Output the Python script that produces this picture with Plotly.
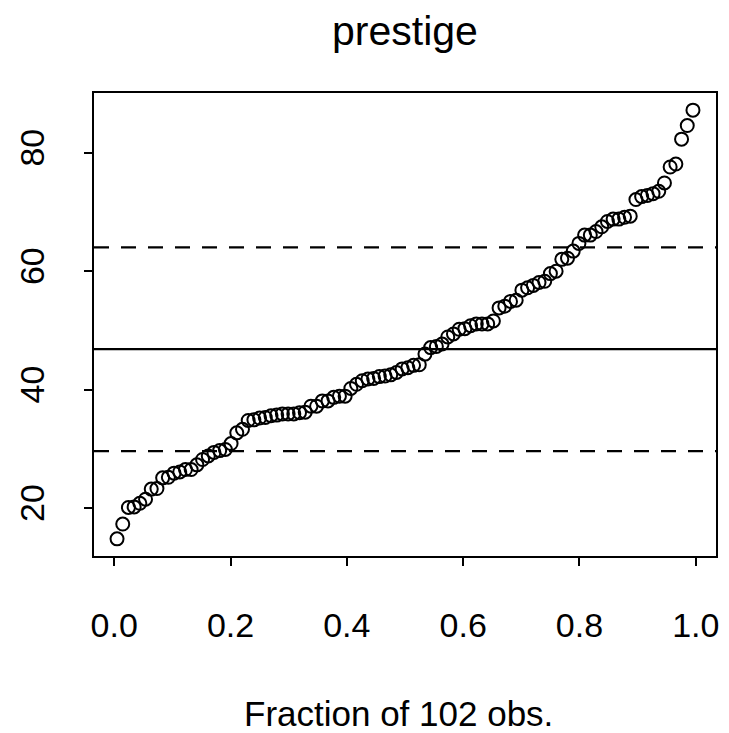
import numpy as np
import plotly.graph_objects as go

# Prestige scores (car::Prestige), 102 occupations
prestige = [68.8, 69.1, 63.4, 56.8, 73.5, 77.6, 72.6, 78.1, 73.1, 68.8,
            62.0, 60.0, 53.8, 62.2, 74.9, 55.1, 82.3, 58.1, 58.3, 72.8,
            84.6, 59.6, 66.1, 87.2, 66.7, 68.4, 64.7, 34.9, 72.1, 69.3,
            67.5, 57.2, 57.6, 54.1, 46.0, 41.9, 49.4, 42.3, 47.7, 30.9,
            32.7, 38.7, 36.1, 37.2, 38.1, 29.4, 51.1, 35.7, 35.6, 41.5,
            40.2, 26.5, 14.8, 23.3, 47.3, 47.1, 51.1, 43.5, 51.6, 29.7,
            20.2, 54.9, 25.9, 20.8, 17.3, 20.1, 44.1, 21.5, 35.3, 38.9,
            25.2, 34.8, 23.2, 33.3, 28.8, 42.5, 44.2, 35.9, 41.8, 35.9,
            43.7, 50.8, 37.2, 28.2, 38.1, 50.3, 27.3, 40.9, 50.2, 51.1,
            38.9, 36.2, 29.9, 42.9, 26.5, 66.1, 48.9, 35.9, 25.1, 26.1,
            42.2, 35.2]
x_ticks = [0.0, 0.2, 0.4, 0.6, 0.8, 1.0]
x_ticklabels = ["0.0", "0.2", "0.4", "0.6", "0.8", "1.0"]
y_ticks = [20, 40, 60, 80]
y_ticklabels = ["20", "40", "60", "80"]
title_text = "prestige"
x_label = "Fraction of 102 obs."

vals = np.sort(np.array(prestige))
n = len(vals)
frac = (np.arange(1, n + 1) - 0.5) / n
mean = vals.mean()
sd = vals.std(ddof=1)

FONT = "Liberation Sans, Arial, sans-serif"

fig = go.Figure()
fig.add_trace(go.Scatter(
    x=frac, y=vals, mode="markers",
    marker=dict(symbol="circle-open", size=13, color="black",
                line=dict(color="black", width=2)),
    showlegend=False, hoverinfo="skip"))

for yv, dash in [(mean, "solid"), (mean - sd, "15px,12px"), (mean + sd, "15px,12px")]:
    fig.add_shape(type="line", xref="paper", x0=0, x1=1, yref="y", y0=yv, y1=yv,
                  line=dict(color="black", width=2.2, dash=dash))

xr = [frac.min() - 0.04 * (frac.max() - frac.min()), frac.max() + 0.04 * (frac.max() - frac.min())]
yr = [vals.min() - 0.04 * (vals.max() - vals.min()), vals.max() + 0.04 * (vals.max() - vals.min())]

fig.update_layout(
    width=729, height=733,
    margin=dict(l=94, r=10, t=93, b=177),
    paper_bgcolor="white", plot_bgcolor="white",
    font=dict(family=FONT, size=34, color="black"),
    title=dict(text=title_text, x=0.5, xanchor="center", xref="paper",
               y=1 - 31 / 733, yref="container", yanchor="middle",
               font=dict(size=41, family=FONT, color="black")),
    xaxis=dict(range=xr, tickvals=x_ticks, ticktext=x_ticklabels,
               showgrid=False, zeroline=False, showline=True, mirror=True,
               linecolor="black", linewidth=2.2, ticks="outside", ticklen=8,
               tickwidth=2.2, tickcolor="black", ticklabelstandoff=30,
               tickfont=dict(size=34, family=FONT, color="black")),
    yaxis=dict(range=yr, tickvals=y_ticks, ticktext=y_ticklabels,
               showgrid=False, zeroline=False, showline=True, mirror=True,
               linecolor="black", linewidth=2.2, ticks="outside", ticklen=8,
               tickwidth=2.2, tickcolor="black", tickangle=-90, ticklabelstandoff=26,
               tickfont=dict(size=34, family=FONT, color="black")),
    annotations=[dict(text=x_label, xref="paper", yref="paper",
                      x=(400 - 94) / 625, y=-(713 - 556) / 463, xanchor="center", yanchor="middle",
                      showarrow=False, font=dict(size=35, family=FONT, color="black"))],
)

fig.write_html("out.html")
